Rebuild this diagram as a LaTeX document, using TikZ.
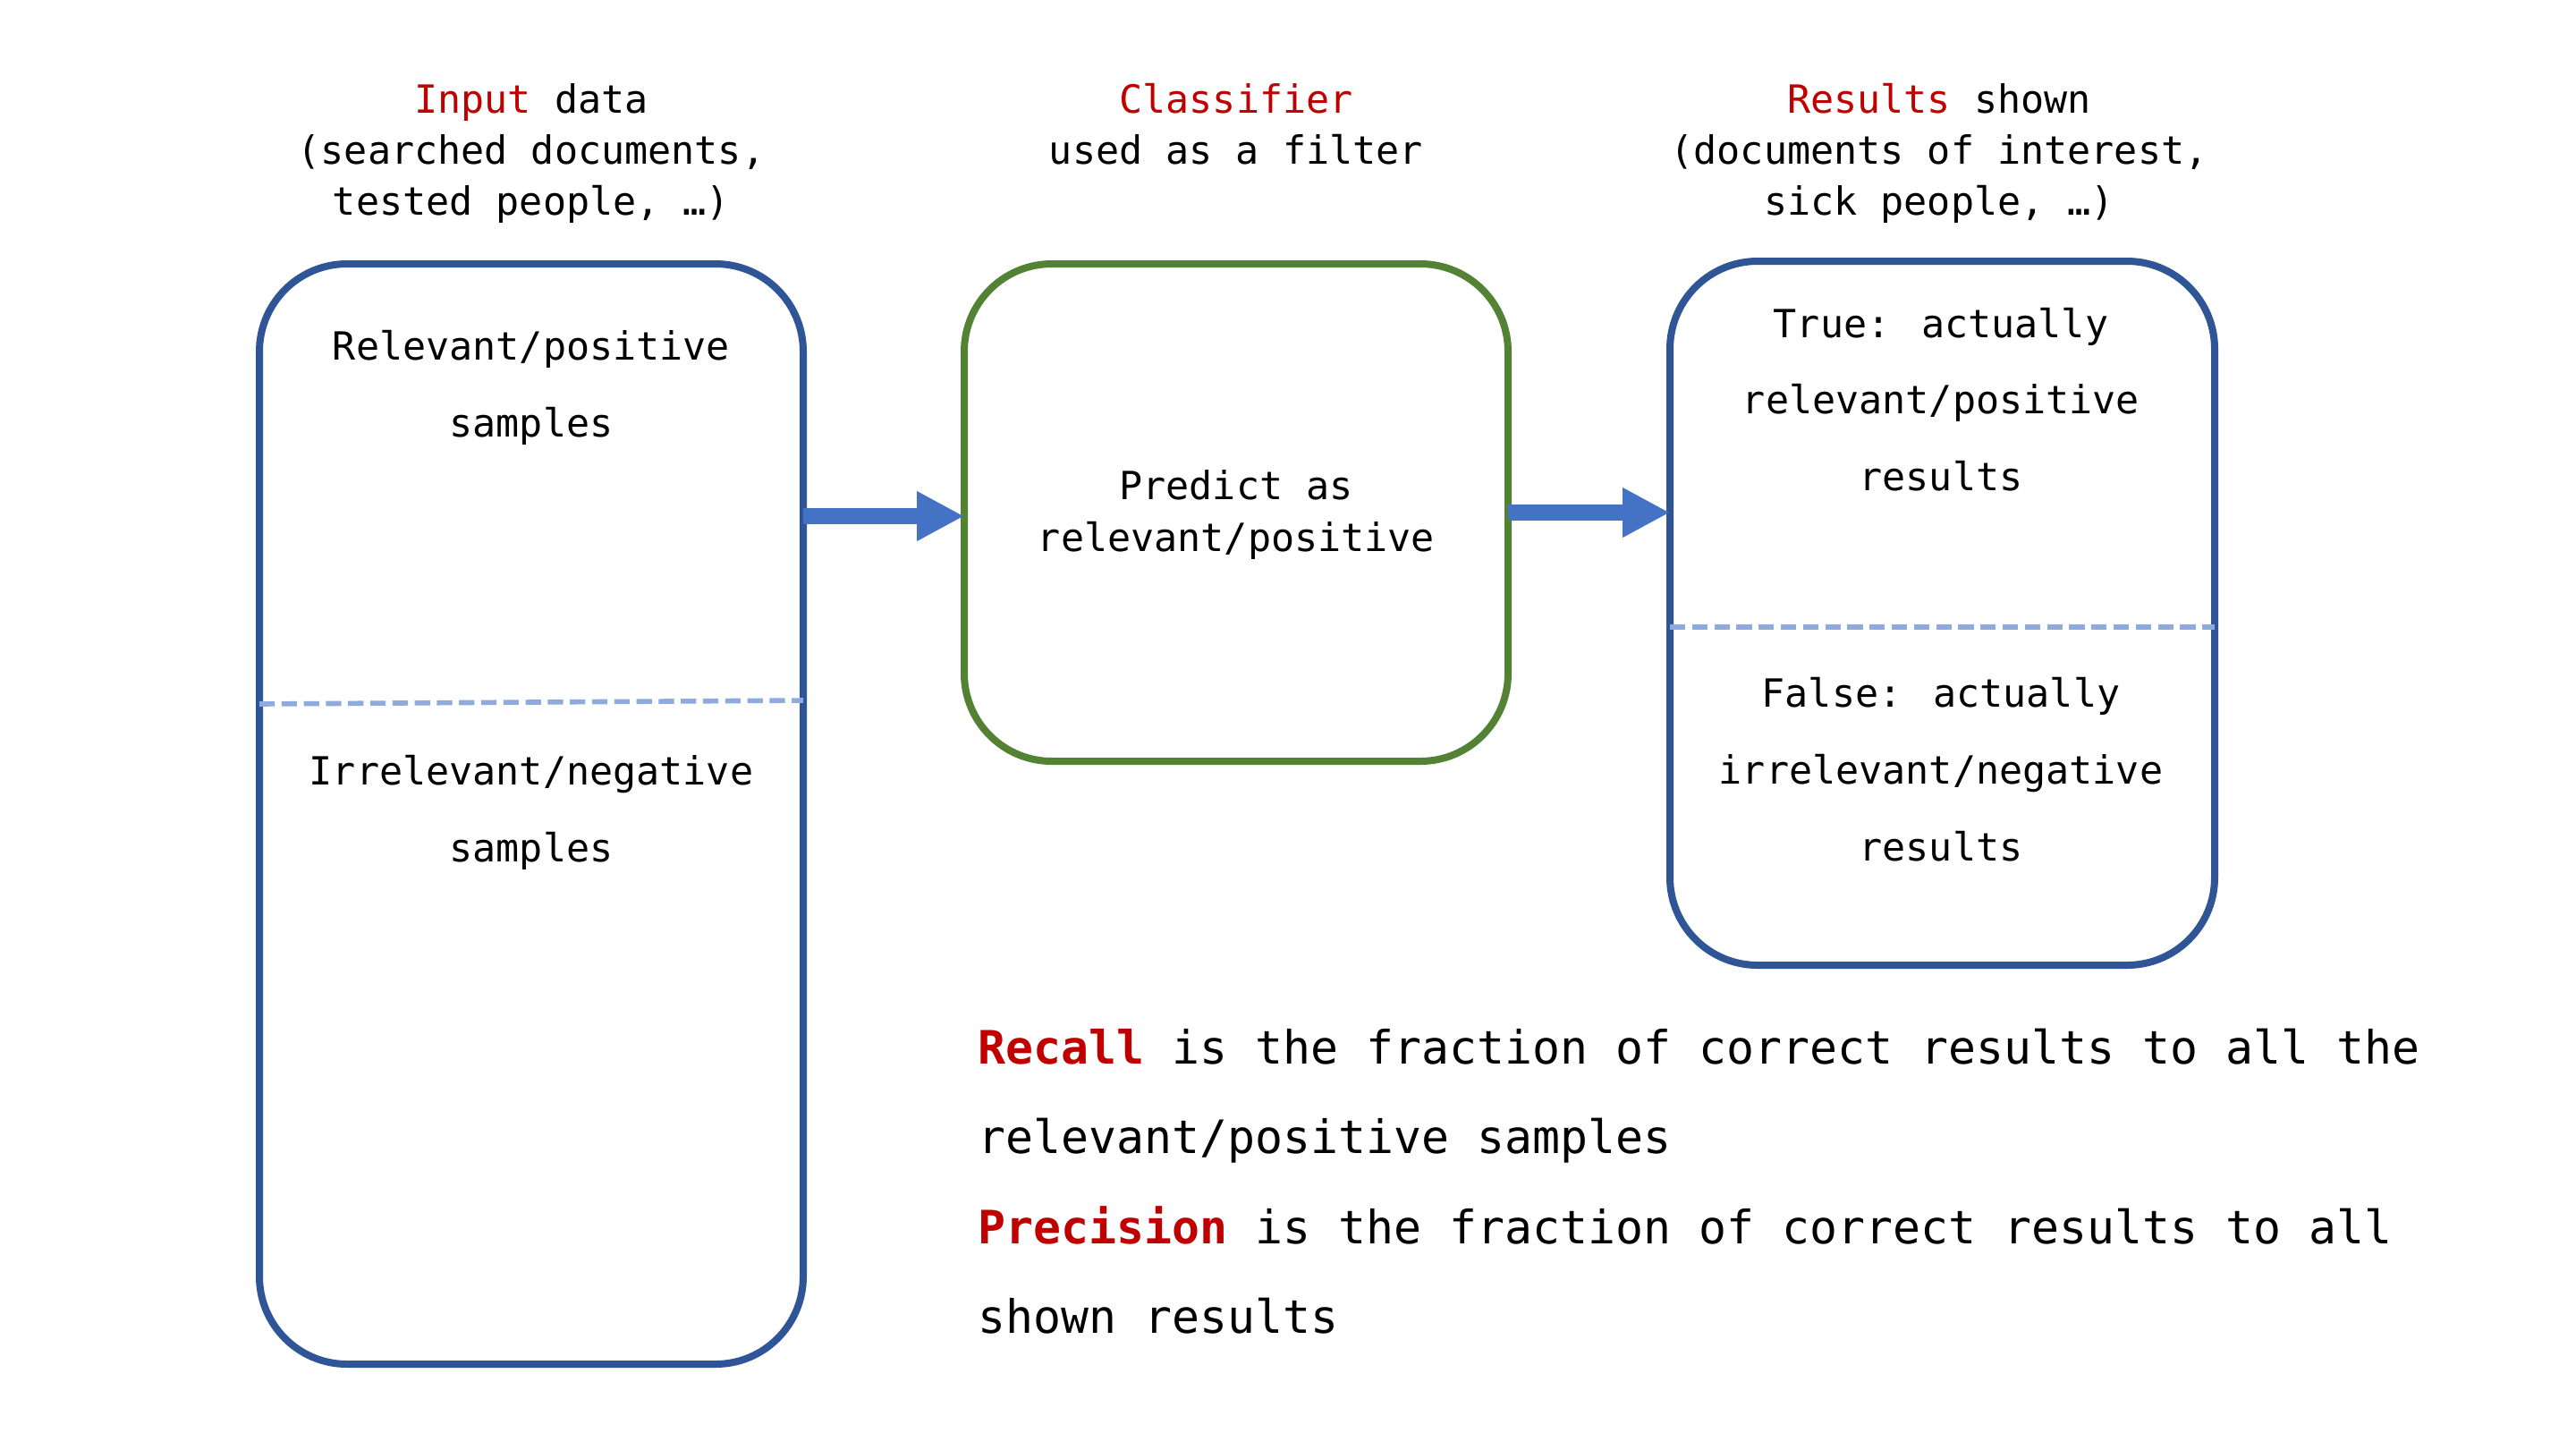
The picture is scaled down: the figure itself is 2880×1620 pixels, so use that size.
\documentclass[tikz,border=0pt]{standalone}
\usepackage{fontspec}
\setmainfont{DejaVu Sans Mono}
\usetikzlibrary{arrows.meta}
\definecolor{myred}{HTML}{C00000}
\definecolor{boxblue}{HTML}{2F5597}
\definecolor{boxgreen}{HTML}{548235}
\definecolor{arrowblue}{HTML}{4472C4}
\definecolor{dashblue}{HTML}{8FAADC}
\begin{document}
\begin{tikzpicture}[x=0.25pt,y=-0.25pt,
  roundbox/.style={draw, line width=2pt, rounded corners=24.5pt, inner sep=0pt, outer sep=0pt},
  titletext/.style={anchor=base, align=center, inner sep=0pt, font=\fontsize{10.85pt}{14.25pt}\selectfont},
  boxtext/.style={anchor=base, align=center, inner sep=0pt, font=\fontsize{10.85pt}{21.4pt}\selectfont},
  predtext/.style={anchor=base, align=center, inner sep=0pt, font=\fontsize{10.85pt}{14.5pt}\selectfont},
  notetext/.style={anchor=base west, align=left, inner sep=0pt, font=\fontsize{12.87pt}{25pt}\selectfont},
  blockarrow/.style={draw=arrowblue, line width=4.5pt, -{Triangle[length=13.25pt,width=13pt]}},
  divider/.style={draw=dashblue, line width=1.4pt, dash pattern=on 4.3pt off 1.9pt},
  hl/.style={text=myred}
]
\fill[white] (0,0) rectangle (2880,1620);
\useasboundingbox (0,0) rectangle (2880,1620);

% boxes
\node[roundbox, draw=boxblue, minimum width=152pt, minimum height=307.5pt] (input) at (594,910) {};
\node[roundbox, draw=boxgreen, minimum width=152pt, minimum height=139pt] (classifier) at (1382,573) {};
\node[roundbox, draw=boxblue, minimum width=152.25pt, minimum height=196.75pt] (results) at (2171.5,685.5) {};

% dividers
\draw[divider] (input.west |- 0,787) -- (input.east |- 0,783);
\draw[divider] (results.west |- 0,701) -- (results.east |- 0,701);

% arrows
\draw[blockarrow] ([yshift=-1pt]input.east |- classifier.west) -- ([yshift=-1pt]classifier.west);
\draw[blockarrow] (classifier.east) -- (classifier.east -| results.west);

% titles (anchor = baseline of the last line)
\node[titletext] (inputtitle) at (594,240.5) {\textcolor{myred}{Input} data\\(searched documents,\\tested people, …)};
\node[titletext] (classtitle) at (1382,183.5) {\textcolor{myred}{Classifier}\\used as a filter};
\node[titletext] (restitle) at (2168,240.5) {\textcolor{myred}{Results} shown\\(documents of interest,\\sick people, …)};

% box texts
\node[boxtext] (relsamples) at (594,488) {Relevant/positive\\samples};
\node[boxtext] (irrsamples) at (594,963) {Irrelevant/negative\\samples};
\node[predtext] (predict) at (1382,616) {Predict as\\relevant/positive};
\node[boxtext] (trueres) at (2170,548.5) {True: actually\\relevant/positive\\results};
\node[boxtext] (falseres) at (2170,962) {False: actually\\irrelevant/negative\\results};

% notes
\node[notetext] (recall) at (1093,1289) {\textcolor{myred}{\bfseries Recall} is the fraction of correct results to all the\\relevant/positive samples};
\node[notetext] (precision) at (1093,1490) {\textcolor{myred}{\bfseries Precision} is the fraction of correct results to all\\shown results};
\end{tikzpicture}
\end{document}
